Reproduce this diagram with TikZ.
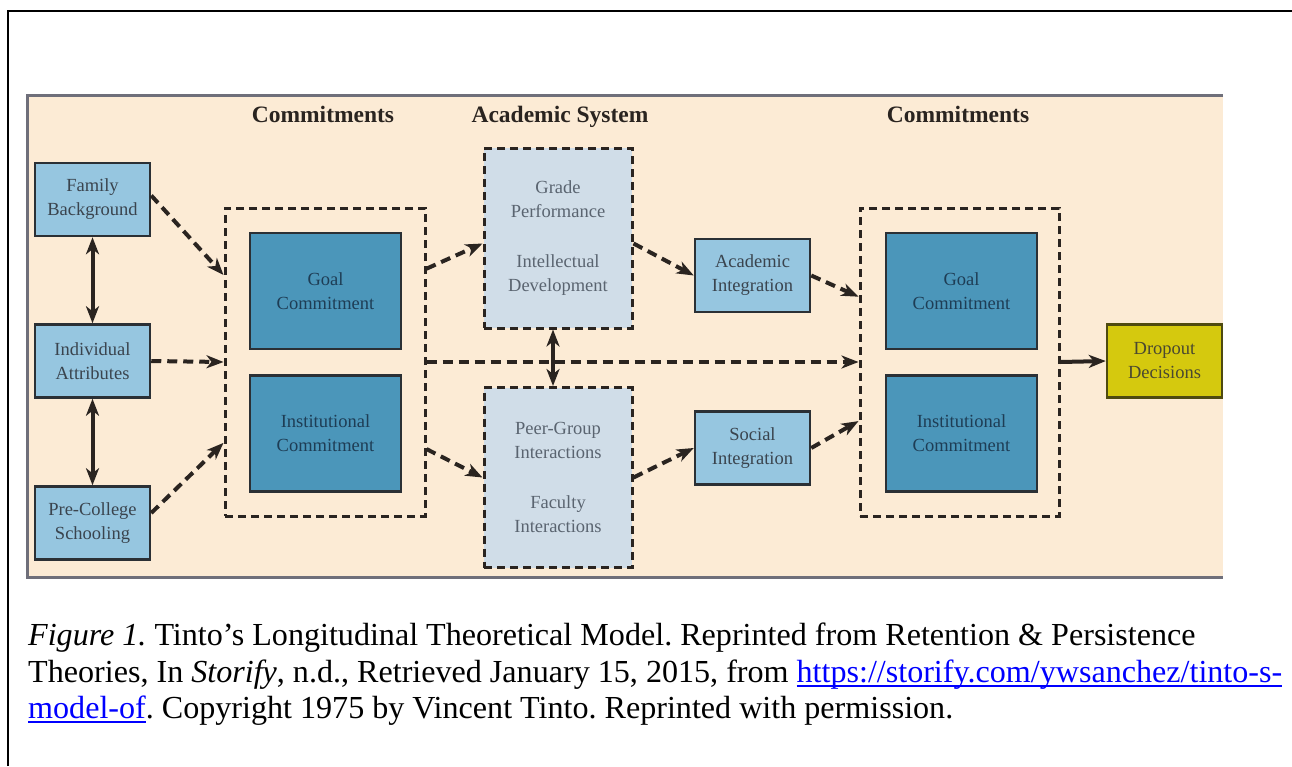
\documentclass[tikz,border=0pt]{standalone}
\usepackage{fontspec}
\setmainfont{Liberation Serif}
\usetikzlibrary{arrows.meta,calc}

\definecolor{paper}{HTML}{FCEBD5}
\definecolor{panelgray}{HTML}{6F6F7A}
\definecolor{lightblue}{HTML}{96C6E0}
\definecolor{darkblue}{HTML}{4B96BA}
\definecolor{paleblue}{HTML}{D0DDE8}
\definecolor{dropyellow}{HTML}{D5C90E}
\definecolor{dropedge}{HTML}{4E4A10}
\definecolor{boxedge}{HTML}{2B3035}
\definecolor{ink}{HTML}{2A2420}
\definecolor{lighttext}{HTML}{3A444E}
\definecolor{darktext}{HTML}{1E3D55}
\definecolor{paletext}{HTML}{5A6470}
\definecolor{droptext}{HTML}{4A4830}
\definecolor{linkblue}{HTML}{0000FF}

% underlined hyperlink text
\newcommand\linkul[1]{\setbox0\hbox{#1}\rlap{\rule[-4.5pt]{\wd0}{1.8pt}}\box0}

\begin{document}
\frenchspacing
\begin{tikzpicture}[x=1pt,y=-1pt,
  boxfont/.style={font=\fontsize{18.5}{24}\selectfont, align=center},
  factor/.style={boxfont, draw=boxedge, line width=2.5pt, fill=lightblue,
    text=lighttext, minimum width=115pt, minimum height=73pt, inner sep=0pt},
  commit/.style={boxfont, draw=boxedge, line width=2.5pt, fill=darkblue,
    text=darktext, minimum width=151pt, minimum height=116pt, inner sep=0pt},
  system/.style={boxfont, draw=ink, line width=3pt, dash pattern=on 8pt off 5pt,
    fill=paleblue, text=paletext, minimum width=148pt, minimum height=180pt, inner sep=0pt},
  group/.style={draw=ink, line width=3pt, dash pattern=on 8pt off 5pt,
    minimum width=200pt, minimum height=308pt, inner sep=0pt},
  heading/.style={anchor=base, font=\fontsize{23.5}{28}\selectfont\bfseries, text=ink, inner sep=0pt},
  tip/.style={-{Stealth[length=17pt,width=13pt,inset=5pt]}},
  flow/.style={tip, draw=ink, line width=4pt, dash pattern=on 10pt off 6pt},
  link/.style={tip, draw=ink, line width=4pt},
  mutual/.style={{Stealth[length=17pt,width=13pt,inset=5pt]}-{Stealth[length=17pt,width=13pt,inset=5pt]},
    draw=ink, line width=4pt},
  caption/.style={anchor=base west, font=\fontsize{32.1}{36}\selectfont, inner sep=0pt}
]
\useasboundingbox (0,0) rectangle (1292,766);

% page frame
\draw[line width=2pt] (8,766) -- (8,11) -- (1292,11);

% figure panel
\fill[paper] (27,95) rectangle (1223,577);
\draw[panelgray, line width=3pt] (1223,95) -- (27,95) -- (27,577) -- (1223,577);

% column headings
\node[heading] (h1) at (323,122) {Commitments};
\node[heading] (h2) at (560,122) {Academic System};
\node[heading] (h3) at (958,122) {Commitments};

% background factors
\node[factor] (fam) at (92.5,199.5) {Family\\Background};
\node[factor] (ind) at (92.5,361) {Individual\\Attributes};
\node[factor] (pre) at (92.5,523) {Pre-College\\Schooling};

% initial commitments
\node[group] (lc) at (325,362) {};
\node[commit] (goalL) at (325.5,291) {Goal\\Commitment};
\node[commit] (instL) at (325.5,433.5) {Institutional\\Commitment};

% academic and social systems
\node[system] (grade) at (558,238) {Grade\\Performance\\[26pt]Intellectual\\Development};
\node[system] (peer) at (558,477.5) {Peer-Group\\Interactions\\[26pt]Faculty\\Interactions};

% integration
\node[factor] (acad) at (752.5,275.5) {Academic\\Integration};
\node[factor] (soc) at (752.5,448) {Social\\Integration};

% later commitments
\node[group, minimum width=199pt] (rc) at (959.5,362) {};
\node[commit] (goalR) at (961.5,291) {Goal\\Commitment};
\node[commit] (instR) at (961.5,433.5) {Institutional\\Commitment};

% outcome
\node[factor, fill=dropyellow, draw=dropedge, text=droptext] (drop) at (1164.5,361) {Dropout\\Decisions};

% connectors
\draw[mutual] (fam.south) -- (ind.north);
\draw[mutual] (ind.south) -- (pre.north);
\draw[flow] ([yshift=4pt]fam.east) -- ($(lc.north west)!0.22!(lc.south west)$);
\draw[flow] (ind.east) -- (lc.west);
\draw[flow] ([yshift=10pt]pre.east) -- ($(lc.north west)!0.76!(lc.south west)$);
\draw[flow] ($(lc.north east)!0.2!(lc.south east)$) -- ($(grade.north west)!0.53!(grade.south west)$);
\draw[flow] ($(lc.north east)!0.78!(lc.south east)$) -- (peer.west);
\draw[flow] (lc.east) -- (rc.west);
\draw[mutual] ([xshift=-5pt]grade.south) -- ([xshift=-5pt]peer.north);
\draw[flow] ($(grade.north east)!0.53!(grade.south east)$) -- (acad.west);
\draw[flow] (peer.east) -- (soc.west);
\draw[flow] (acad.east) -- ($(rc.north west)!0.29!(rc.south west)$);
\draw[flow] (soc.east) -- ($(rc.north west)!0.69!(rc.south west)$);
\draw[link] (rc.east) -- (drop.west);

% caption
\node[caption] (cap1) at (28,645) {\textit{Figure 1.} Tinto’s Longitudinal Theoretical Model. Reprinted from Retention \& Persistence};
\node[caption] (cap2) at (28,682) {Theories, In \textit{Storify}, n.d., Retrieved January 15, 2015, from \textcolor{linkblue}{\linkul{https://storify.com/ywsanchez/tinto-s-}}};
\node[caption] (cap3) at (28,718) {\textcolor{linkblue}{\linkul{model-of}}. Copyright 1975 by Vincent Tinto. Reprinted with permission.};
\end{tikzpicture}
\end{document}
